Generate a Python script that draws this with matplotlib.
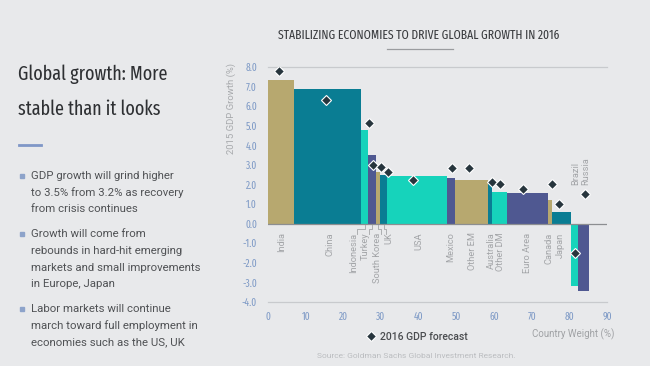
import matplotlib
matplotlib.use("Agg")
import matplotlib.pyplot as plt
from matplotlib.lines import Line2D
from matplotlib import font_manager as fm
import numpy as np

# ---------------- data ----------------
countries = ["India", "China", "Indonesia", "Turkey", "South Korea", "UK", "USA",
             "Mexico", "Other EM", "Australia", "Other DM", "Euro Area", "Canada",
             "Japan", "Brazil", "Russia"]
weights = [6.9, 17.8, 1.9, 2.0, 1.2, 1.8, 16.0, 2.0, 8.9, 1.0, 4.0, 10.9, 1.0, 5.0, 1.9, 2.9]
growth_2015 = [7.35, 6.9, 4.8, 3.5, 2.65, 2.5, 2.45, 2.35, 2.25, 2.1, 1.6, 1.55, 1.2, 0.6, -3.2, -3.45]
forecast_x = [2.9, 15.3, 26.8, 27.8, 29.9, 31.9, 38.6, 48.8, 53.4, 59.5, 61.5, 67.6, 75.3, 77.3, 81.4, 84.1]
forecast_2016 = [7.8, 6.3, 5.15, 3.0, 2.9, 2.65, 2.25, 2.85, 2.85, 2.15, 2.05, 1.75, 2.05, 1.0, -1.5, 1.5]
label_x = [3.6, 16.4, 22.75, 25.9, 29.1, 32.2, 40.0, 48.5, 54.2, 59.3, 61.8, 69.0, 74.6, 77.7, 81.6, 84.3]
palette = ["#B7A86F", "#0A7D93", "#16D3BB", "#4F5891"]
bar_colors = [palette[0], palette[1], palette[2], palette[3], palette[0], palette[1], palette[2],
              palette[3], palette[0], palette[1], palette[2], palette[3], palette[0],
              palette[1], palette[2], palette[3]]
y_ticks = [-4.0, -3.0, -2.0, -1.0, 0.0, 1.0, 2.0, 3.0, 4.0, 5.0, 6.0, 7.0, 8.0]
x_ticks = [0, 10, 20, 30, 40, 50, 60, 70, 80, 90]

bullets = [
    ["GDP growth will grind higher", "to 3.5% from 3.2% as recovery", "from crisis continues"],
    ["Growth will come from", "rebounds in hard-hit emerging", "markets and small improvements", "in Europe, Japan"],
    ["Labor markets will continue", "march toward full employment in", "economies such as the US, UK"],
]

BG = "#E8E9EB"
SANS = ["Roboto", "Liberation Sans", "DejaVu Sans"]
TICK_C = "#7E9AC6"


def find_condensed():
    best = None
    for f in fm.fontManager.ttflist:
        fn = f.fname.lower()
        nm = f.name.lower()
        cond = ("condensed" in fn or "narrow" in fn or "condensed" in nm or "narrow" in nm
                or str(f.stretch) in ("condensed", "extra-condensed", "semi-condensed",
                                      "ultra-condensed"))
        if not cond:
            continue
        if "italic" in fn or "oblique" in fn or str(f.style) != "normal":
            continue
        score = 0
        if "extracondensed" in fn.replace("-", "") or "extra" in str(f.stretch):
            score += 3
        elif "semicondensed" in fn.replace("-", ""):
            score += 1
        else:
            score += 2
        w = f.weight if isinstance(f.weight, int) else 400
        score -= abs(w - 400) / 400.0
        if best is None or score > best[0]:
            best = (score, f.fname)
    return best[1] if best else None


cond_file = find_condensed()


def cprops(size, weight="normal"):
    if cond_file:
        return fm.FontProperties(fname=cond_file, size=size, weight=weight)
    return fm.FontProperties(family="DejaVu Sans", size=size, weight=weight)


W, H = 650, 366
fig = plt.figure(figsize=(6.5, 3.66), dpi=100, facecolor=BG)
renderer = fig.canvas.get_renderer()


def fx(px):
    return px / W


def fy(py):
    return 1 - py / H


def fit_width(t, target_px, max_size):
    w = t.get_window_extent(renderer).width
    s = t.get_fontsize() * target_px / w
    t.set_fontsize(min(s, max_size))


ax = fig.add_axes([fx(268), fy(302), (607 - 268) / W, (302 - 67) / H], facecolor=BG)

lefts = np.concatenate([[0], np.cumsum(weights)[:-1]])
ax.bar(lefts, growth_2015, width=weights, align="edge", color=bar_colors, linewidth=0, zorder=2)
ax.plot(forecast_x, forecast_2016, linestyle="none", marker="D", markersize=4.7,
        markerfacecolor="#27353D", markeredgecolor="white", markeredgewidth=0.8, zorder=4,
        label="2016 GDP forecast")

ax.set_xlim(0, 90)
ax.set_ylim(-4, 8)
ax.set_yticks(y_ticks)
ax.set_yticklabels([f"{v:.1f}" for v in y_ticks])
ax.set_xticks(x_ticks)
ax.tick_params(length=0, colors=TICK_C, labelsize=7)
ax.tick_params(axis="y", pad=8)
ax.tick_params(axis="x", pad=7)
for lab in ax.get_xticklabels() + ax.get_yticklabels():
    lab.set_fontproperties(cprops(7.4 if cond_file else 6.3))
for s in ["left", "right"]:
    ax.spines[s].set_visible(False)
for s in ["top", "bottom"]:
    ax.spines[s].set_color("#C8CACD")
    ax.spines[s].set_linewidth(0.9)
ax.axhline(0, color="#8C8E91", linewidth=0.9, zorder=3)

# category labels
for i, name in enumerate(countries):
    if name in ("Brazil", "Russia"):
        ax.text(label_x[i], 1.95, name, rotation=90, ha="center", va="bottom",
                fontsize=6.7, color="#A3A5A8", family=SANS)
    else:
        ax.text(label_x[i], -0.45, name, rotation=90, ha="center", va="top",
                fontsize=6.7, color="#A3A5A8", family=SANS)

# leader lines for narrow bars
for i in (2, 3, 4, 5):
    bx = lefts[i] + weights[i] / 2
    lx = label_x[i] + (0.9 if label_x[i] < bx else -0.9)
    ax.plot([lx, lx, bx, bx], [-0.55, -0.25, -0.25, -0.08], color="#A3A5A8",
            linewidth=0.6, clip_on=False, zorder=1)

# legend
leg = ax.legend(loc="center left", bbox_to_anchor=(fx(368), fy(337)),
                bbox_transform=fig.transFigure, frameon=False, handlelength=0.6,
                handletextpad=0.6, borderpad=0, borderaxespad=0,
                prop={"family": SANS, "size": 7.5, "weight": "medium"})
for t in leg.get_texts():
    t.set_color("#4A4C4F")

# axis titles
fig.text(fx(231), fy(108), "2015 GDP Growth (%)", rotation=90, ha="center", va="center",
         fontsize=6.8, color="#A8AAAD", family=SANS)
fig.text(fx(614), fy(334), "Country Weight (%)", ha="right", va="center",
         fontsize=7, color="#A0A2A5", family=SANS)
fig.text(fx(317), fy(356), "Source: Goldman Sachs Global Investment Research.",
         ha="left", va="center", fontsize=6, color="#BBBDC0", family=SANS)

# chart title
title = fig.text(fx(419), fy(35), "STABILIZING ECONOMIES TO DRIVE GLOBAL GROWTH IN 2016",
                 ha="center", va="center", color="#3A3C3F", fontproperties=cprops(10))
fit_width(title, 280, 13)
fig.add_artist(Line2D([fx(387), fx(453)], [fy(49), fy(49)], color="#9A9C9F", linewidth=0.9))

# left panel
h1 = fig.text(fx(18), fy(80), "Global growth: More", ha="left", va="baseline",
              color="#2E3033", fontproperties=cprops(16))
fit_width(h1, 150 if cond_file else 185, 18)
h2 = fig.text(fx(18), fy(115), "stable than it looks", ha="left", va="baseline",
              color="#2E3033", fontproperties=cprops(h1.get_fontsize()))
fig.add_artist(Line2D([fx(19), fx(41)], [fy(144.5), fy(144.5)], color="#7F97C7", linewidth=2))

line_step = 16.7
starts = [176, 234.3, 309.3]
for block, y0 in zip(bullets, starts):
    fig.add_artist(Line2D([fx(21.5)], [fy(y0 - 0.5)], marker="s", markersize=2.2,
                          color="#8DA3CA", linestyle="none"))
    for k, line in enumerate(block):
        fig.text(fx(31), fy(y0 + k * line_step), line, ha="left", va="center",
                 fontsize=8.2, color="#505255", family=SANS)

fig.savefig("out.png", dpi=100, facecolor=BG)
